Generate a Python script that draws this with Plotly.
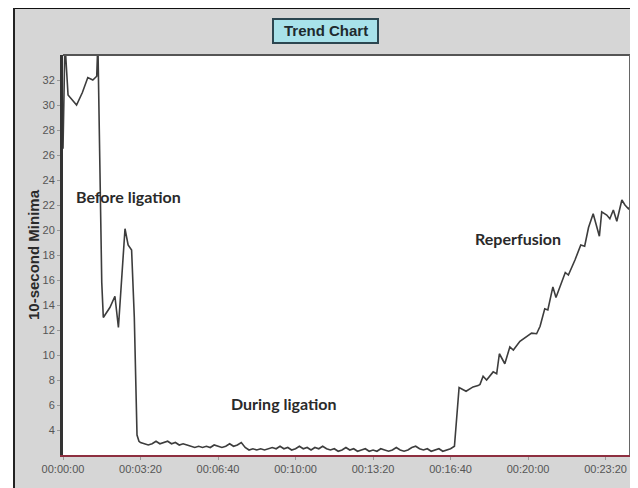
import plotly.graph_objects as go

# ---- data ----
time_s = [0, 5, 13, 35, 50, 64, 77, 87, 90, 100, 104, 121, 134, 143, 160, 168, 177, 184, 191, 196,
          200, 210, 220, 230, 240, 250, 260, 270, 280, 290, 300, 310, 320, 330, 340, 350, 360, 370,
          380, 390, 400, 410, 420, 430, 440, 450, 460, 470, 480, 490, 500, 510, 520, 530, 540, 550,
          560, 570, 580, 590, 600, 610, 620, 630, 640, 650, 660, 670, 680, 690, 700, 710, 720, 730,
          740, 750, 760, 770, 780, 790, 800, 810, 820, 830, 840, 850, 860, 870, 880, 890, 900, 910,
          920, 930, 940, 950, 960, 970, 980, 990, 1000, 1010,
          1022, 1040, 1058, 1071, 1076, 1084, 1093, 1110, 1119, 1126, 1140, 1153, 1162, 1179, 1196,
          1209, 1222, 1231, 1243, 1251, 1264, 1272, 1296, 1304, 1321, 1336, 1346, 1356, 1368, 1377,
          1384, 1390, 1403, 1411, 1420, 1429, 1442, 1450, 1459, 1465]
minima = [26.5, 35, 30.8, 30.0, 31.0, 32.2, 32.0, 32.3, 35, 15.8, 13.0, 13.8, 14.7, 12.2, 20.1, 18.8, 18.4, 13.0, 3.6, 3.1,
          3.0, 2.9, 2.8, 2.9, 3.1, 2.9, 3.0, 3.1, 2.9, 3.0, 2.8, 2.9, 2.8, 2.7, 2.6, 2.7, 2.6, 2.7,
          2.6, 2.8, 2.7, 2.6, 2.7, 2.9, 2.7, 2.8, 3.0, 2.6, 2.4, 2.5, 2.4, 2.5, 2.4, 2.5, 2.6, 2.5,
          2.7, 2.5, 2.6, 2.4, 2.5, 2.7, 2.5, 2.6, 2.4, 2.6, 2.5, 2.7, 2.5, 2.4, 2.5, 2.3, 2.4, 2.6,
          2.4, 2.5, 2.3, 2.4, 2.5, 2.3, 2.4, 2.3, 2.5, 2.4, 2.3, 2.4, 2.6, 2.4, 2.3, 2.4, 2.6, 2.7,
          2.5, 2.4, 2.5, 2.3, 2.4, 2.5, 2.3, 2.4, 2.5, 2.7,
          7.4, 7.1, 7.45, 7.55, 7.65, 8.3, 8.0, 8.65, 8.5, 10.1, 9.3, 10.65, 10.4, 11.1, 11.5,
          11.75, 11.7, 12.3, 13.7, 13.6, 15.45, 14.6, 16.6, 16.4, 17.6, 18.8, 18.7, 20.2, 21.3, 20.3,
          19.5, 21.45, 21.2, 20.9, 21.6, 20.7, 22.4, 22.0, 21.7, 21.9]

x_tick_vals = [0, 200, 400, 600, 800, 1000, 1200, 1400]
x_tick_text = ["00:00:00", "00:03:20", "00:06:40", "00:10:00", "00:13:20", "00:16:40", "00:20:00", "00:23:20"]
y_tick_vals = [4, 6, 8, 10, 12, 14, 16, 18, 20, 22, 24, 26, 28, 30, 32]

phase_labels = ["Before ligation", "During ligation", "Reperfusion"]
phase_pos = [(169, 22.7), (568, 6.1), (1174, 19.3)]

# ---- figure ----
OFF = 8                     # page body margin
W, H = 630, 480
L, R, T, B = 55, 8, 47, 33
pw, ph = W - L - R, H - T - B

def px(xref_pix):
    return (xref_pix - OFF - L) / pw

def py(yref_pix):
    return (H - B - (yref_pix - OFF)) / ph

fig = go.Figure()
fig.add_trace(go.Scatter(x=time_s, y=minima, mode="lines",
                         line=dict(color="#3d3d3d", width=1.6), showlegend=False))

shapes = [
    # white strip on the left of the grey panel
    dict(type="rect", xref="paper", yref="paper", x0=px(0), x1=px(14), y0=py(500), y1=py(0),
         fillcolor="white", line=dict(width=0)),
    # outer black border (top and left)
    dict(type="line", xref="paper", yref="paper", x0=px(14), x1=px(650), y0=py(8), y1=py(8),
         line=dict(color="#111111", width=2)),
    dict(type="line", xref="paper", yref="paper", x0=px(14), x1=px(14), y0=py(8), y1=py(500),
         line=dict(color="#222222", width=2)),
    # plot border top/right
    dict(type="line", xref="paper", yref="paper", x0=0, x1=1, y0=1, y1=1,
         line=dict(color="#555555", width=2)),
    dict(type="line", xref="paper", yref="paper", x0=1, x1=1, y0=0, y1=1,
         line=dict(color="#666666", width=2)),
    # title box
    dict(type="rect", xref="paper", yref="paper", x0=px(273), x1=px(378), y0=py(43), y1=py(19),
         fillcolor="#a8e2ea", line=dict(color="#2c4650", width=2)),
]

annotations = [
    dict(text="<b>Trend Chart</b>", xref="paper", yref="paper", x=px(325.5), y=py(31),
         xanchor="center", yanchor="middle", showarrow=False,
         font=dict(family="Arial, Liberation Sans", size=15, color="#1e2a2e")),
    dict(text="<b>10-second Minima</b>", xref="paper", yref="paper", x=px(33), y=py(255),
         xanchor="center", yanchor="middle", textangle=-90, showarrow=False,
         font=dict(family="Arial, Liberation Sans", size=15, color="#2a2a2a")),
]
for lab, (tx, ty) in zip(phase_labels, phase_pos):
    annotations.append(dict(text="<b>" + lab + "</b>", x=tx, y=ty, xref="x", yref="y",
                            xanchor="center", yanchor="middle", showarrow=False,
                            font=dict(family="Lato, Open Sans", size=16, color="#2a2a2a")))

fig.update_layout(
    width=W, height=H,
    margin=dict(l=L, r=R, t=T, b=B, pad=0),
    paper_bgcolor="#d6d6d6", plot_bgcolor="white",
    shapes=shapes, annotations=annotations,
    xaxis=dict(range=[0, 1463], tickvals=x_tick_vals, ticktext=x_tick_text,
               showgrid=False, zeroline=False, showline=True, linecolor="#8e2f40", linewidth=2,
               ticks="outside", ticklen=3, tickcolor="#999999",
               tickfont=dict(family="Arial, Liberation Sans", size=11, color="#555555")),
    yaxis=dict(range=[2, 34], tickvals=y_tick_vals, showgrid=False, zeroline=False,
               showline=True, linecolor="#333333", linewidth=3,
               ticks="outside", ticklen=3, tickcolor="#999999",
               tickfont=dict(family="Arial, Liberation Sans", size=11, color="#555555")),
)

fig.write_html("out.html")
